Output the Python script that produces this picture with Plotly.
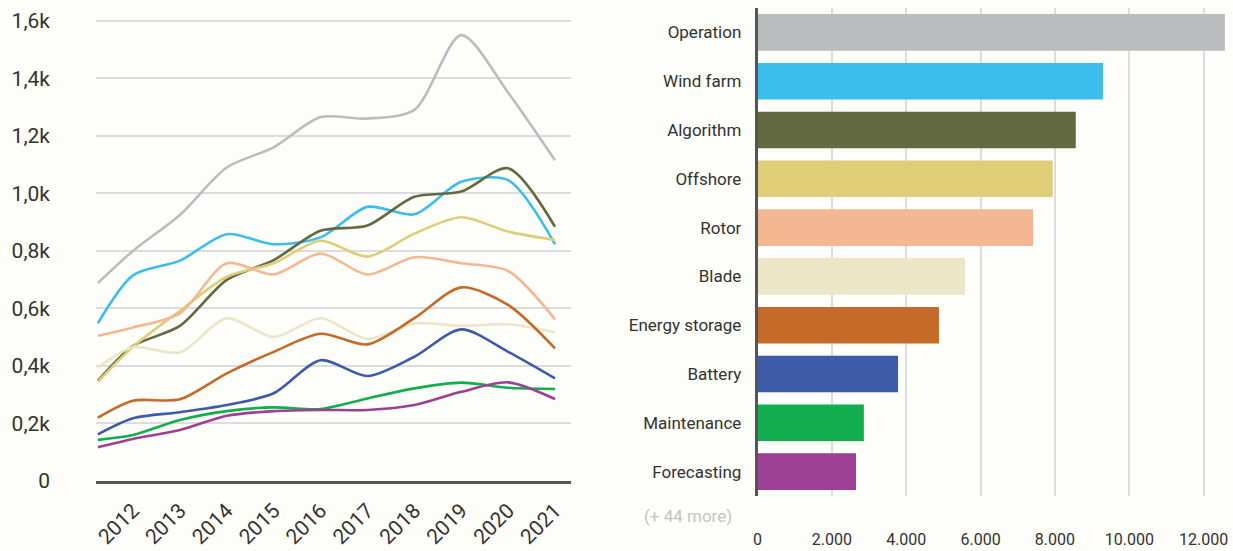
import plotly.graph_objects as go

# ---------------- data ----------------
years = [2011.25, 2012, 2013, 2014, 2015, 2016, 2017, 2018, 2019, 2020, 2021]
tick_years = [2012, 2013, 2014, 2015, 2016, 2017, 2018, 2019, 2020, 2021]

operation = [688, 800, 925, 1090, 1160, 1265, 1260, 1290, 1550, 1350, 1115]
wind_farm = [548, 715, 766, 858, 823, 847, 953, 927, 1040, 1046, 823]
algorithm = [348, 469, 539, 699, 768, 870, 888, 988, 1006, 1087, 884]
offshore = [345, 467, 592, 710, 757, 835, 780, 860, 917, 867, 838]
rotor = [505, 534, 583, 757, 718, 791, 718, 778, 757, 730, 562]
blade = [394, 465, 447, 566, 500, 566, 494, 548, 539, 545, 517]
energy_storage = [220, 279, 284, 374, 449, 512, 475, 566, 673, 612, 461]
battery = [162, 218, 239, 264, 305, 420, 365, 432, 527, 449, 357]
maintenance = [143, 160, 212, 243, 256, 250, 287, 322, 342, 324, 320]
forecasting = [117, 146, 177, 227, 243, 247, 247, 264, 310, 343, 285]

y_tickvals = [0, 200, 400, 600, 800, 1000, 1200, 1400, 1600]
y_ticktext = ["0", "0,2k", "0,4k", "0,6k", "0,8k", "1,0k", "1,2k", "1,4k", "1,6k"]

categories = ["Operation", "Wind farm", "Algorithm", "Offshore", "Rotor", "Blade",
              "Energy storage", "Battery", "Maintenance", "Forecasting"]
bar_values = [12570, 9290, 8560, 7940, 7410, 5580, 4880, 3780, 2860, 2650]
colors = ["#BBBCBE", "#3BBEEC", "#636940", "#DFCD78", "#F3B891", "#ECE5C7",
          "#C46B29", "#3E5BA9", "#12AD4F", "#9E3F96"]

x_tickvals = [0, 2000, 4000, 6000, 8000, 10000, 12000]
x_ticktext = ["0", "2.000", "4.000", "6.000", "8.000", "10.000", "12.000"]
more_label = "(+ 44 more)"

series = [operation, wind_farm, algorithm, offshore, rotor, blade,
          energy_storage, battery, maintenance, forecasting]

# ---------------- figure ----------------
W, H = 1233, 551
BG = "#FDFDF9"
FONT = "Roboto"

fig = go.Figure()

for name, vals, col in zip(categories, series, colors):
    fig.add_trace(go.Scatter(
        x=years, y=vals, mode="lines", name=name,
        line=dict(color=col, width=2.6, shape="spline", smoothing=0.8),
        xaxis="x", yaxis="y", hoverinfo="skip",
    ))

fig.add_trace(go.Bar(
    x=bar_values, y=categories, orientation="h",
    marker=dict(color=colors, line=dict(width=0)),
    xaxis="x2", yaxis="y2", hoverinfo="skip",
))

def px_x(p):
    return p / W

def px_y(p):
    return 1 - p / H

fig.update_layout(
    width=W, height=H,
    paper_bgcolor=BG, plot_bgcolor=BG,
    margin=dict(l=0, r=0, t=0, b=0),
    showlegend=False,
    bargap=0.25,
    font=dict(family=FONT, color="#333333"),
    xaxis=dict(
        domain=[px_x(96), px_x(571)],
        range=[2011.211, 2021.341],
        tickvals=tick_years,
        ticktext=[str(y) for y in tick_years],
        tickangle=-45,
        tickfont=dict(size=21, color="#333333"),
        showgrid=False, zeroline=False,
        showline=True, linecolor="#555555", linewidth=3,
        ticks="", ticklabelstandoff=6,
        automargin=False,
        anchor="y",
    ),
    yaxis=dict(
        domain=[px_y(481), px_y(15)],
        range=[0, 1620],
        tickvals=y_tickvals, ticktext=y_ticktext,
        tickfont=dict(size=21, color="#333333"),
        showgrid=True, gridcolor="#DCDCE0", gridwidth=1.5,
        zeroline=False, showline=False, ticks="",
        ticklabelstandoff=45,
        automargin=False,
        anchor="x",
    ),
    xaxis2=dict(
        domain=[px_x(757.5), px_x(1226)],
        range=[0, 12600],
        tickvals=x_tickvals, ticktext=x_ticktext,
        tickfont=dict(size=16, color="#333333"),
        showgrid=True, gridcolor="#DCDCE0", gridwidth=1.5,
        zeroline=False, showline=False, ticks="",
        ticklabelstandoff=32,
        automargin=False,
        anchor="y2",
    ),
    yaxis2=dict(
        domain=[px_y(496), px_y(8)],
        autorange="reversed",
        tickfont=dict(size=17, color="#333333"),
        showgrid=False, zeroline=False,
        showline=True, linecolor="#555555", linewidth=2.5,
        ticks="", ticklabelstandoff=10,
        automargin=False,
        anchor="x2",
    ),
    annotations=[dict(
        text=more_label, xref="paper", yref="paper",
        x=px_x(734), y=px_y(516), xanchor="right", yanchor="middle",
        showarrow=False, font=dict(size=17, color="#C4C4C4", family=FONT),
    )],
)

fig.write_html(
    "out.html",
    config={"displayModeBar": False},
    post_script="document.body.style.margin='0';document.body.style.background='" + BG + "';",
)
